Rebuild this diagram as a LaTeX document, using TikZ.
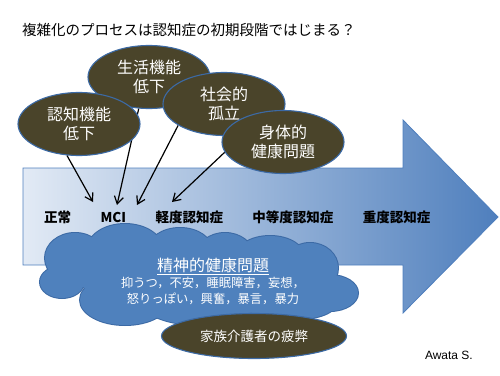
\documentclass[tikz,border=0pt]{standalone}
\usepackage{fontspec}
\setmainfont{Noto Sans CJK JP}
\newfontfamily\latinfont{Liberation Sans}
\usetikzlibrary{arrows.meta,positioning,backgrounds,shapes.geometric}
\definecolor{issuefill}{HTML}{4A442A}
\definecolor{rimblue}{HTML}{3C6AA5}
\definecolor{paleblue}{HTML}{E2EAF5}
\definecolor{lightblue}{HTML}{C9D8EE}
\definecolor{deepblue}{HTML}{4F7FBD}
\definecolor{cloudblue}{HTML}{4F81BD}
\tikzset{
  issue/.style={draw=rimblue, fill=issuefill, ellipse, line width=1.1pt, minimum width=122pt, minimum height=63pt, inner sep=0pt, align=center, text=white, font=\fontsize{16}{19}\selectfont},
  stage/.style={inner sep=0pt, text height=11pt, text depth=2pt, font=\fontsize{13.5}{16}\selectfont\bfseries},
  arr/.style={-{Straight Barb[length=2.6mm,width=3.2mm]}, line width=1.2pt},
  cloudtext/.style={align=center, text=white, inner sep=0pt, font=\fontsize{12.3}{16}\selectfont},
}
\newcommand\puffs{75/258/30/25, 125/250/38/26, 180/250/32/22, 225/255/28/22, 270/258/35/22, 310/268/28/25,
  330/293/28/18, 62/282/22/16, 125/300/45/25, 200/305/55/20, 290/305/45/15, 200/280/120/30}
\begin{document}
\begin{tikzpicture}[x=1pt, y=-1pt, node distance=29pt]
\useasboundingbox (0,0) rectangle (500,375);
\node[anchor=west, inner sep=0pt, font=\fontsize{14.5}{17}\selectfont] (title) at (22,30) {複雑化のプロセスは認知症の初期段階ではじまる？};
% progression arrow
\begin{pgfonlayer}{background}
\draw[draw=deepblue, line width=0.8pt, left color=paleblue, middle color=lightblue, right color=deepblue]
  (23,168) -- (403,168) -- (403,120) -- (498,217) -- (403,313) -- (403,265) -- (23,265) -- cycle;
\end{pgfonlayer}
% stages
\node[stage, anchor=west] (normal) at (44,218) {正常};
\node[stage, right=of normal] (mci) {MCI};
\node[stage, right=of mci] (mild) {軽度認知症};
\node[stage, right=of mild] (moderate) {中等度認知症};
\node[stage, right=of moderate] (severe) {重度認知症};
% risk factors
\node[issue] (life) at (149,77) {生活機能\\低下};
\node[issue] (cogn) at (79,124) {認知機能\\低下};
\node[issue] (social) at (224,104) {社会的\\孤立};
\node[issue] (body) at (283,142) {身体的\\健康問題};
\coordinate (tipcogn) at (93,202);
\coordinate (tiplife) at (117,205);
\coordinate (tipsocial) at (137,205);
\coordinate (tipbody) at (172,202);
\begin{pgfonlayer}{background}
\draw[arr] (cogn.249) -- (tipcogn);
\draw[arr] (life.252) -- (tiplife);
\draw[arr] (social.205) -- (tipsocial);
\draw[arr] (body.190) -- (tipbody);
\end{pgfonlayer}
% mental health cloud: outline of the puffs, then their fill
\foreach \cx/\cy/\rx/\ry in \puffs
  \draw[rimblue, line width=2pt] (\cx,\cy) ellipse [x radius=\rx, y radius=\ry];
\foreach \cx/\cy/\rx/\ry in \puffs
  \fill[cloudblue] (\cx,\cy) ellipse [x radius=\rx, y radius=\ry];
\node[cloudtext] (mental) at (213,281) {{\fontsize{16}{18}\selectfont\underline{精神的健康問題}}\\抑うつ，不安，睡眠障害，妄想，\\怒りっぽい，興奮，暴言，暴力};
\node[issue, minimum width=185pt, minimum height=45pt, font=\fontsize{13.5}{16}\selectfont] (carer) at (254,336) {家族介護者の疲弊};
\node[anchor=east, inner sep=0pt, font=\latinfont\fontsize{12}{14}\selectfont] (credit) at (473,355) {Awata S.};
\end{tikzpicture}
\end{document}
